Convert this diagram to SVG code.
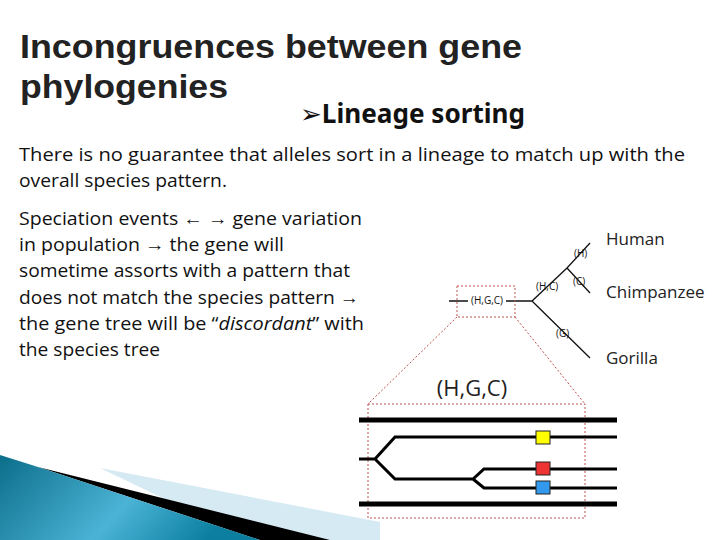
<svg xmlns="http://www.w3.org/2000/svg" width="720" height="540" viewBox="0 0 720 540">
<style>
.t{font-family:"Liberation Sans",Arial,sans-serif;font-weight:bold;font-size:33px;fill:#222}
.b{font-family:"Open Sans","Noto Sans",sans-serif;font-size:19px;fill:#111}
.s{font-family:"Open Sans","Noto Sans",sans-serif;font-size:10px;fill:#111}
.sp{font-family:"Open Sans","Noto Sans",sans-serif;font-size:17px;fill:#222}
.tr{stroke:#111;stroke-width:1.3;fill:none}
.dot{stroke:#c0504d;stroke-width:1;stroke-dasharray:2 2;fill:none}
.k{stroke:#000;fill:none}
</style>
<defs>
<linearGradient id="g" x1="0" y1="0" x2="1" y2="0.3">
<stop offset="0" stop-color="#0b6e8a"/><stop offset="0.6" stop-color="#4bb3d6"/><stop offset="1" stop-color="#0c7fa0"/>
</linearGradient>
</defs>
<rect width="720" height="540" fill="#fff"/>
<g id="deco">
<polygon points="100,468 380,522 380,540 250,540" fill="#d5eaf2"/>
<polygon points="38,467 330,540 260,540" fill="#000"/>
<polygon points="0,455 38,467 260,540 0,540" fill="url(#g)"/>
</g>
<g id="title">
<text class="t" x="20" y="58" textLength="502" lengthAdjust="spacingAndGlyphs">Incongruences between gene</text>
<text class="t" x="20" y="98" textLength="208" lengthAdjust="spacingAndGlyphs">phylogenies</text>
<text x="300" y="123" textLength="225" lengthAdjust="spacingAndGlyphs" style="font-family:'Noto Sans','DejaVu Sans',sans-serif;font-weight:bold;font-size:26px" fill="#111">➢Lineage sorting</text>
</g>
<g id="body">
<text class="b" x="19" y="161" textLength="666" lengthAdjust="spacingAndGlyphs">There is no guarantee that alleles sort in a lineage to match up with the</text>
<text class="b" x="19" y="187" textLength="208" lengthAdjust="spacingAndGlyphs">overall species pattern.</text>
<text class="b" x="19" y="225" textLength="343" lengthAdjust="spacingAndGlyphs">Speciation events ← → gene variation</text>
<text class="b" x="19" y="251" textLength="265" lengthAdjust="spacingAndGlyphs">in population → the gene will</text>
<text class="b" x="19" y="277" textLength="331" lengthAdjust="spacingAndGlyphs">sometime assorts with a pattern that</text>
<text class="b" x="19" y="304" textLength="340" lengthAdjust="spacingAndGlyphs">does not match the species pattern →</text>
<text class="b" x="19" y="330" textLength="345" lengthAdjust="spacingAndGlyphs">the gene tree will be “<tspan font-style="italic">discordant</tspan>” with</text>
<text class="b" x="19" y="356" textLength="141" lengthAdjust="spacingAndGlyphs">the species tree</text>
</g>
<g id="species-tree">
<path class="tr" d="M449,301 H468 M506,301 H532 L567,268 L590,243 M567,268 L590,293 M532,301 L590,358"/>
<text class="s" x="487" y="304" text-anchor="middle">(H,G,C)</text>
<text class="s" x="536" y="290">(H,C)</text>
<text class="s" x="574" y="257">(H)</text>
<text class="s" x="573" y="285">(C)</text>
<text class="s" x="556" y="337">(G)</text>
<text class="sp" x="606" y="245">Human</text>
<text class="sp" x="606" y="298">Chimpanzee</text>
<text class="sp" x="606" y="364">Gorilla</text>
</g>
<g id="zoom">
<rect class="dot" x="457" y="286" width="58" height="31"/>
<path class="dot" d="M457,317 L368,404 M515,317 L585,404"/>
<rect class="dot" x="368" y="404" width="217" height="114"/>
<text x="472" y="396" text-anchor="middle" style="font-family:'Open Sans','Noto Sans',sans-serif;font-size:22px" fill="#222">(H,G,C)</text>
</g>
<g id="gene-tree">
<path class="k" stroke-width="5" d="M359,420 H617 M359,504 H617"/>
<path class="k" stroke-width="3" d="M359,459 H375 L395,437 H617 M375,459 L395,479 H473 L484,469 H617 M473,479 L484,488 H617"/>
<rect x="536" y="431" width="14" height="13" fill="#ffff00" stroke="#222"/>
<rect x="536" y="462" width="14" height="13" fill="#ee3333" stroke="#222"/>
<rect x="536" y="481" width="14" height="13" fill="#3399ee" stroke="#222"/>
</g>
</svg>
